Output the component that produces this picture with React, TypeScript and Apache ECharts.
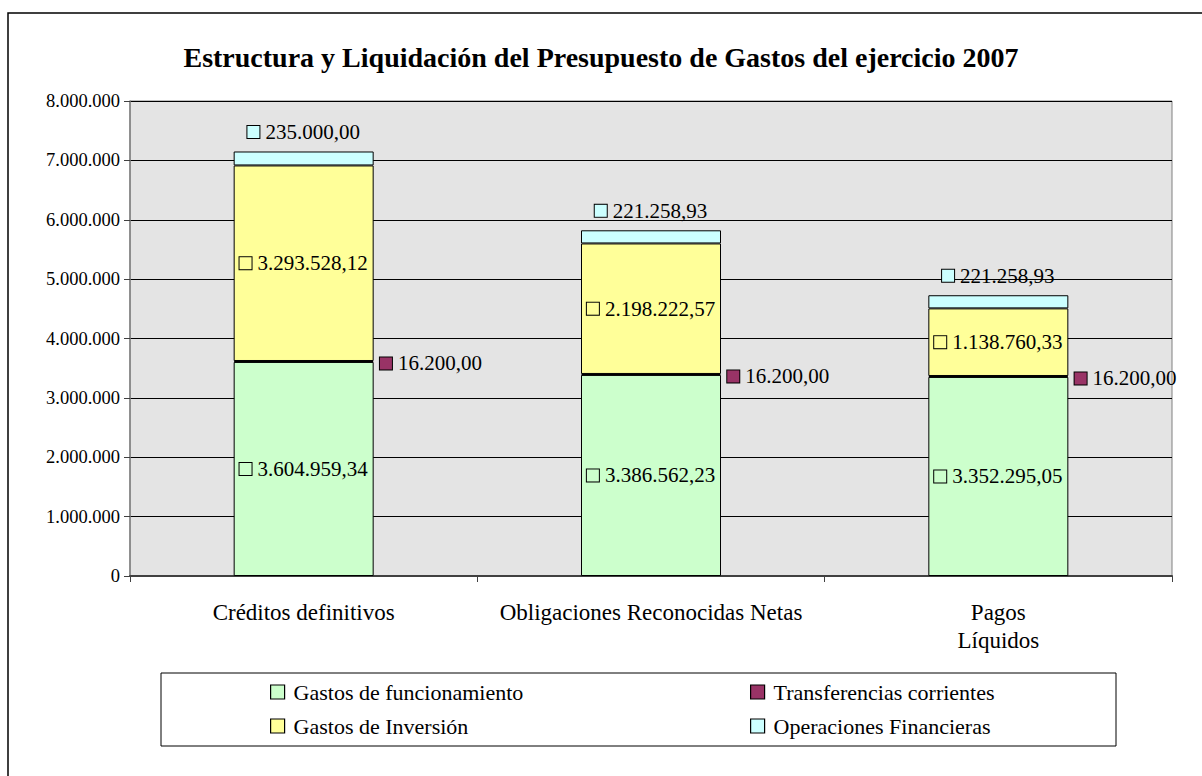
import React, { useEffect, useRef } from "react";
import * as echarts from "echarts";

const categories = ["Créditos definitivos", "Obligaciones Reconocidas Netas", "Pagos\nLíquidos"];
const seriesNames = [
  "Gastos de funcionamiento",
  "Transferencias corrientes",
  "Gastos de Inversión",
  "Operaciones Financieras",
];
const funcionamiento = [3604959.34, 3386562.23, 3352295.05];
const transferencias = [16200.0, 16200.0, 16200.0];
const inversion = [3293528.12, 2198222.57, 1138760.33];
const financieras = [235000.0, 221258.93, 221258.93];
const yTicks = [0, 1000000, 2000000, 3000000, 4000000, 5000000, 6000000, 7000000, 8000000];

const colors = ["#CCFFCC", "#993366", "#FFFF99", "#CCFFFF"];
const FONT = "Liberation Serif";

function fmtEs(v: number, dec: number): string {
  const s = v.toFixed(dec);
  const parts = s.split(".");
  const ii = parts[0].replace(/\B(?=(\d{3})+(?!\d))/g, ".");
  return parts[1] ? ii + "," + parts[1] : ii;
}

function makeLabel(color: string, position: any, distance: number, offset: number[]) {
  return {
    show: true,
    position,
    distance,
    offset,
    color: "#000",
    textBorderWidth: 0,
    formatter: (p: any) => `{k|}{v|${fmtEs(p.value, 2)}}`,
    rich: {
      k: {
        width: 12,
        height: 12,
        backgroundColor: color,
        borderColor: "#000",
        borderWidth: 1,
      },
      v: { fontSize: 21, fontFamily: FONT, color: "#000", textBorderWidth: 0, padding: [0, 0, 0, 6] },
    },
  };
}

export default function App() {
  const ref = useRef<HTMLDivElement>(null);
  useEffect(() => {
    if (!ref.current) return;
    const chart = echarts.init(ref.current, null, { renderer: "svg" });
    const dataSets = [funcionamiento, transferencias, inversion, financieras];
    const positions: any[] = ["inside", "right", "inside", "top"];
    const distances = [0, 6, 0, 9];
    const offsets = [[0, 0], [0, 2], [0, 0], [0, 0]];
    const series = seriesNames.map((name, i) => ({
      name,
      type: "bar",
      stack: "total",
      barWidth: 140,
      data: dataSets[i],
      itemStyle: { color: colors[i], borderColor: "#000", borderWidth: i === 1 ? 1.5 : 1 },
      label: makeLabel(colors[i], positions[i], distances[i], offsets[i]),
      emphasis: { disabled: true },
    }));
    const legendCommon = {
      orient: "vertical",
      itemWidth: 14,
      itemHeight: 14,
      itemGap: 12,
      icon: "rect",
      selectedMode: false,
      itemStyle: { borderColor: "#000", borderWidth: 1.2 },
      textStyle: {
        fontSize: 22,
        lineHeight: 22,
        fontFamily: FONT,
        color: "#000",
        padding: [0, 0, 0, 4],
      },
    };
    chart.setOption({
      animation: false,
      backgroundColor: "#fff",
      title: {
        text: "Estructura y Liquidación del Presupuesto de Gastos del ejercicio 2007",
        left: "center",
        top: 38,
        textStyle: { fontSize: 28, fontWeight: "bold", fontFamily: FONT, color: "#000" },
      },
      graphic: [
        {
          type: "rect",
          shape: { x: 8, y: 13, width: 1200, height: 770 },
          style: { fill: "none", stroke: "#000", lineWidth: 1.5 },
          silent: true,
          z: -10,
        },
        {
          type: "rect",
          shape: { x: 161, y: 673, width: 955, height: 73 },
          style: { fill: "#fff", stroke: "#000", lineWidth: 1 },
          silent: true,
          z: -5,
        },
      ],
      legend: [
        { ...legendCommon, left: 265, top: 676, data: [seriesNames[0], seriesNames[2]] },
        { ...legendCommon, left: 745, top: 676, data: [seriesNames[1], seriesNames[3]] },
      ],
      grid: {
        left: 130,
        right: 30,
        top: 101,
        bottom: 200,
        show: true,
        backgroundColor: "#e4e4e4",
        borderColor: "#808080",
        borderWidth: 1,
      },
      xAxis: {
        type: "category",
        data: categories,
        axisLine: { lineStyle: { color: "#404040", width: 2 } },
        axisTick: { show: true, length: 6, lineStyle: { color: "#404040" } },
        axisLabel: {
          interval: 0,
          hideOverlap: false,
          fontSize: 23,
          fontFamily: FONT,
          color: "#000",
          margin: 22,
          lineHeight: 28,
        },
      },
      yAxis: {
        type: "value",
        min: yTicks[0],
        max: yTicks[yTicks.length - 1],
        interval: 1000000,
        axisLine: { show: true, lineStyle: { color: "#808080", width: 1.5 } },
        axisTick: { show: true, length: 6, lineStyle: { color: "#404040" } },
        splitLine: { show: true, lineStyle: { color: "#000", width: 1 } },
        axisLabel: {
          fontSize: 18.5,
          fontFamily: FONT,
          color: "#000",
          margin: 10,
          formatter: (v: number) => fmtEs(v, 0),
        },
      },
      series,
    });
    return () => chart.dispose();
  }, []);
  return (
    <div
      ref={ref}
      style={{ position: "absolute", left: 0, top: 0, width: 1202, height: 776 }}
    />
  );
}
